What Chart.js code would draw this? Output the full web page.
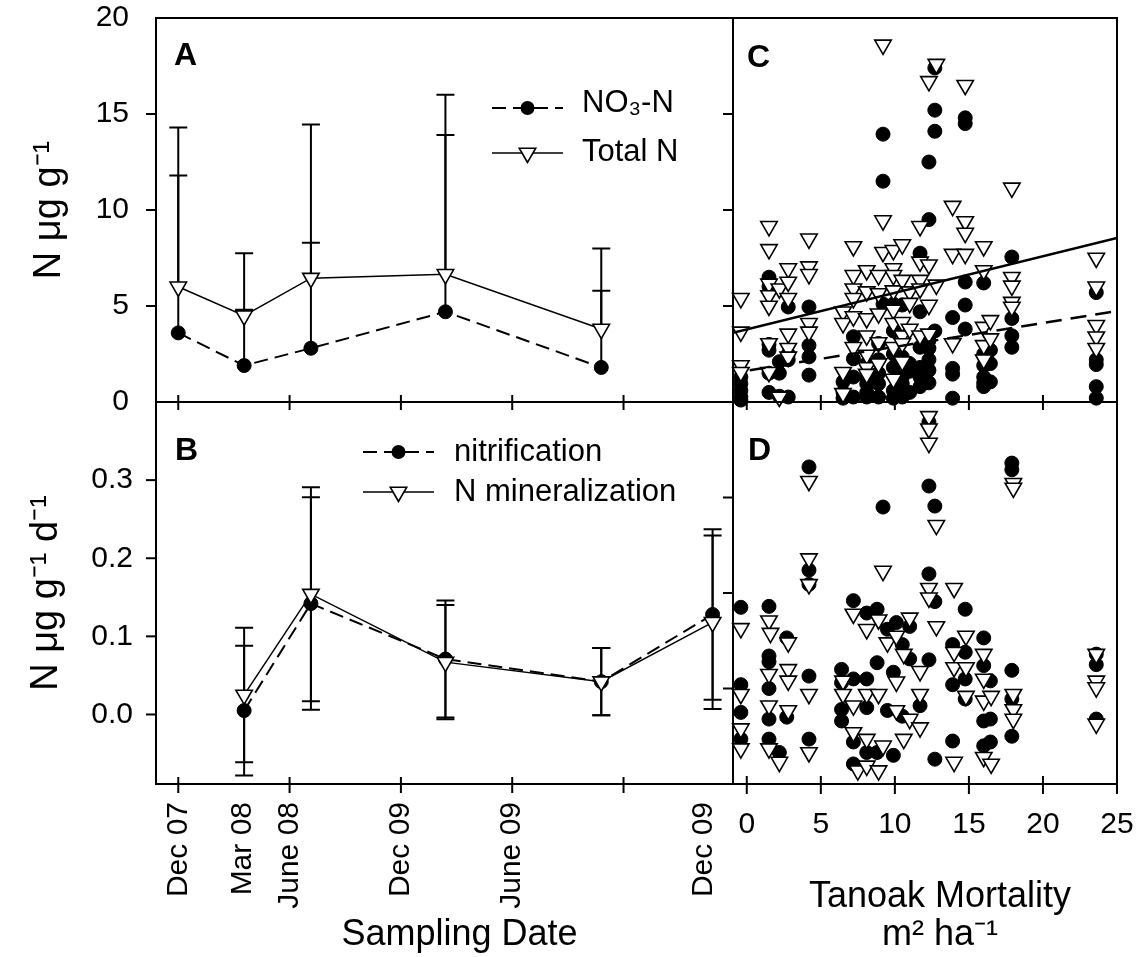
<!DOCTYPE html>
<html>
<head>
<meta charset="utf-8">
<title>Soil N and tanoak mortality</title>
<script src="https://cdn.jsdelivr.net/npm/chart.js@4.4.1/dist/chart.umd.min.js"></script>
<style>
  html, body { margin: 0; padding: 0; background: #fff; }
  #wrap { position: relative; width: 1137px; height: 957px; }
  #wrap canvas { position: absolute; left: 0; top: 0; }
</style>
</head>
<body>
<div id="wrap">
  <canvas id="panelA" width="1137" height="957"></canvas>
  <canvas id="panelB" width="1137" height="957"></canvas>
  <canvas id="panelC" width="1137" height="957"></canvas>
  <canvas id="panelD" width="1137" height="957"></canvas>
</div>
<script>
// sampling dates, in months after Dec 2007
const sampleMonths = [0, 3.55, 7.15, 14.4, 22.8, 28.8];

// panel A: soil N (ug/g), mean and upper error
const nitrateMean = [3.6, 1.9, 2.8, 4.7, 1.8, null];
const nitrateSE   = [8.2, 2.9, 5.5, 9.2, 4.0, null];
const totalNMean  = [6.0, 4.5, 6.45, 6.65, 3.8, null];
const totalNSE    = [8.3, 3.25, 8.0, 9.35, 4.2, null];

// panel B: rates (ug/g/d)
const nitrifMean = [null, 0.005, 0.142, 0.071, 0.042, 0.128];
const nitrifSE   = [null, 0.083, 0.136, 0.075, 0.043, 0.109];
const minerMean  = [null, 0.025, 0.154, 0.067, 0.042, 0.118];
const minerSE    = [null, 0.086, 0.137, 0.073, 0.043, 0.111];

// date axis labels (as printed on the original)
const dateTickMonths = [0, 3.5, 6, 12, 18, 24, 28.3];
const dateTickLabels = ['Dec 07', 'Mar 08', 'June 08', 'Dec 09', 'June 09', '', 'Dec 09'];
const dateTickMarks  = [0, 6, 12, 18, 24];

// panel C: [tanoak mortality m2/ha, N ug/g]
const cNitrate = [
  [-0.4,1.3],[-0.4,0.95],[-0.4,0.6],[-0.4,0.26],[-0.4,0.1],
  [1.5,6.5],[1.5,6.0],[1.5,3.0],[1.5,2.7],[1.5,1.5],[1.5,0.5],
  [2.2,2.1],[2.2,1.5],[2.2,0.3],
  [2.8,4.95],[2.8,2.5],[2.8,2.2],[2.8,0.26],
  [4.2,4.95],[4.2,2.95],[4.2,2.35],[4.2,1.4],
  [6.5,1.05],[6.5,0.5],[6.5,0.2],
  [7.2,3.4],[7.2,2.25],[7.2,1.3],[7.2,0.26],
  [8.1,2.0],[8.1,1.3],[8.1,0.95],[8.1,0.5],[8.1,0.26],
  [8.9,3.05],[8.9,2.2],[8.9,1.5],[8.9,0.95],[8.9,0.26],
  [9.2,13.95],[9.2,11.5],[9.2,5.1],
  [9.9,5.1],[9.9,3.7],[9.9,2.5],[9.9,1.8],[9.9,0.6],[9.9,0.2],
  [10.5,5.05],[10.5,2.35],[10.5,1.3],[10.5,0.95],[10.5,0.26],
  [11.0,2.0],[11.0,1.6],[11.0,0.5],
  [11.7,7.75],[11.7,4.7],[11.7,2.85],[11.7,1.8],[11.7,1.3],[11.7,0.8],
  [12.3,12.5],[12.3,9.5],[12.3,3.2],[12.3,2.8],[12.3,2.2],[12.3,1.65],[12.3,1.0],
  [12.7,17.4],[12.7,15.2],[12.7,14.1],[12.7,3.7],
  [13.9,4.4],[13.9,1.75],[13.9,1.45],[13.9,0.2],
  [14.75,14.8],[14.75,14.5],[14.75,6.25],[14.75,5.05],[14.75,3.8],
  [16.0,6.2],[16.0,2.5],[16.0,1.9],[16.0,1.3],[16.0,1.0],[16.0,0.8],
  [16.45,2.7],[16.45,2.0],[16.45,1.05],
  [17.9,7.55],[17.9,4.35],[17.9,3.45],[17.9,2.85],
  [23.6,5.7],[23.6,2.2],[23.6,1.95],[23.6,0.8],[23.6,0.2]
];
const cTotalN = [
  [-0.4,5.4],[-0.4,3.65],[-0.4,1.9],[-0.4,1.55],
  [1.5,9.15],[1.5,7.95],[1.5,6.15],[1.5,5.55],[1.5,5.0],[1.5,3.05],[1.5,1.55],
  [2.2,5.9],[2.2,0.26],
  [2.8,6.95],[2.8,6.25],[2.8,5.4],[2.8,3.55],[2.8,2.8],[2.8,2.35],
  [4.2,8.5],[4.2,7.05],[4.2,6.65],[4.2,4.1],[4.2,3.65],
  [6.5,4.7],[6.5,4.1],[6.5,1.55],[6.5,0.45],
  [7.2,8.1],[7.2,6.6],[7.2,5.9],[7.2,5.4],[7.2,4.45],[7.2,2.85],
  [8.1,6.85],[8.1,5.75],[8.1,4.35],[8.1,3.45],[8.1,2.45],[8.1,1.8],[8.1,1.45],
  [8.9,6.6],[8.9,5.65],[8.9,4.6],[8.9,3.1],[8.9,2.0],
  [9.2,18.6],[9.2,9.45],[9.2,7.8],
  [9.9,7.9],[9.9,6.95],[9.9,6.6],[9.9,5.8],[9.9,4.8],[9.9,4.1],[9.9,2.85],[9.9,1.2],
  [10.5,8.2],[10.5,6.35],[10.5,4.15],[10.5,3.45],[10.5,3.05],[10.5,2.1],
  [11.0,5.75],[11.0,5.15],[11.0,3.8],
  [11.7,9.15],[11.7,7.3],[11.7,6.35],[11.7,5.9],[11.7,3.45],
  [12.3,16.7],[12.3,7.15],[12.3,5.05],[12.3,3.55],
  [12.8,17.6],[12.8,6.1],
  [13.9,10.2],[13.9,7.7],[13.9,3.05],
  [14.75,16.5],[14.75,9.4],[14.75,8.8],[14.75,7.7],
  [16.0,8.1],[16.0,6.85],[16.0,3.9],[16.0,2.95],[16.0,2.2],
  [16.45,4.25],[16.45,3.3],
  [17.9,11.15],[17.9,6.5],[17.9,6.05],[17.9,5.2],[17.9,4.95],
  [23.6,7.5],[23.6,6.0],[23.6,4.0],[23.6,3.4],[23.6,2.8]
];
// regression lines (end points)
const fitTotalN  = [[-0.93, 3.6], [25, 8.55]];
const fitNitrate = [[0.2, 1.65], [25, 4.74]];

// panel D: [tanoak mortality, rate]
const dNitrif = [
  [-0.4,0.085],[-0.4,0.004],[-0.4,-0.025],[-0.4,-0.053],
  [1.5,0.086],[1.5,0.034],[1.5,0.028],[1.5,0.0],[1.5,-0.032],[1.5,-0.053],
  [2.2,-0.067],
  [2.7,0.053],[2.7,-0.03],
  [4.2,0.232],[4.2,0.124],[4.2,0.109],[4.2,0.013],[4.2,-0.053],
  [6.4,0.02],[6.4,0.006],[6.4,-0.022],[6.4,-0.034],
  [7.2,0.092],[7.2,0.01],[7.2,-0.056],[7.2,-0.079],
  [8.1,0.079],[8.1,0.01],[8.1,-0.02],[8.1,-0.067],
  [8.8,0.083],[8.8,0.027],[8.8,-0.067],
  [9.2,0.19],
  [9.5,0.062],[9.5,-0.023],
  [9.9,0.017],[9.9,-0.07],
  [10.1,0.069],
  [10.5,0.046],[10.5,-0.029],
  [11.0,0.065],[11.0,0.031],
  [11.7,-0.018],
  [12.3,0.279],[12.3,0.212],[12.3,0.12],[12.3,0.03],
  [12.7,0.191],[12.7,0.091],[12.7,-0.074],
  [13.9,0.046],[13.9,0.004],[13.9,-0.055],
  [14.75,0.083],[14.75,0.038],[14.75,0.01],[14.75,-0.011],
  [16.0,0.053],[16.0,0.024],[16.0,-0.034],[16.0,-0.06],
  [16.45,0.008],[16.45,-0.032],[16.45,-0.056],
  [17.9,0.236],[17.9,0.229],[17.9,0.019],[17.9,-0.011],[17.9,-0.05],
  [23.6,0.036],[23.6,0.025],[23.6,-0.032]
];
const dMineral = [
  [-0.4,0.063],[-0.4,-0.006],[-0.4,-0.042],[-0.4,-0.063],
  [1.5,0.071],[1.6,0.058],[1.5,0.015],[1.5,-0.018],[1.5,-0.063],
  [2.2,-0.077],
  [2.8,0.048],[2.8,0.02],[2.8,0.008],[2.8,-0.023],
  [4.2,0.217],[4.2,0.136],[4.2,0.109],[4.2,-0.006],[4.2,-0.067],
  [6.5,0.008],[6.5,-0.006],
  [7.2,0.078],[7.2,-0.018],[7.2,-0.046],
  [7.5,-0.086],
  [8.1,0.062],[8.1,-0.006],[8.1,-0.053],[8.1,-0.081],
  [8.9,0.072],[8.9,-0.006],[8.9,-0.086],
  [9.2,0.123],[9.2,-0.06],
  [9.5,0.048],
  [10.1,0.055],[10.1,0.007],[10.1,-0.023],
  [10.6,0.036],[10.6,-0.053],
  [11.0,0.074],[11.0,-0.032],
  [11.7,0.018],[11.7,-0.006],[11.7,-0.041],
  [12.3,0.285],[12.3,0.272],[12.3,0.257],[12.3,0.105],[12.3,0.095],
  [12.8,0.171],[12.8,0.065],
  [14.0,0.105],[14.0,0.038],[14.0,0.022],[14.0,-0.077],
  [14.8,0.055],[14.8,0.022],[14.8,-0.008],
  [16.0,0.036],[16.0,0.01],[16.0,-0.013],[16.0,-0.072],
  [16.5,-0.008],[16.5,-0.079],
  [18.0,0.215],[18.0,0.21],[18.0,-0.006],[18.0,-0.022],[18.0,-0.032],
  [23.6,0.036],[23.6,0.008],[23.6,0.001],[23.6,-0.037]
];

const FONT = "'Liberation Sans', Arial, Helvetica, sans-serif";
Chart.defaults.font.family = FONT;
Chart.defaults.color = '#000';

// turn the date arrays into {x, y, err} points
function series(means, errs) {
  return sampleMonths
    .map((m, i) => ({ x: m, y: means[i], err: errs[i] }))
    .filter(p => p.y !== null);
}
function pairs(list) {
  return list.map(p => ({ x: p[0], y: p[1] }));
}
// fixed axis size, no extra room for edge labels
function fixSize(w, h) {
  return s => {
    if (w !== null) s.width = w;
    if (h !== null) s.height = h;
    s.paddingTop = 0; s.paddingBottom = 0; s.paddingLeft = 0; s.paddingRight = 0;
  };
}

const triangleStyle = {
  pointStyle: 'triangle', pointRotation: 180, pointRadius: 9.5,
  pointBackgroundColor: '#fff', pointBorderColor: '#000', pointBorderWidth: 1.6
};
const circleStyle = {
  pointStyle: 'circle', pointRadius: 7,
  pointBackgroundColor: '#000', pointBorderColor: '#000', pointBorderWidth: 1
};

// box round the plot area, tick marks, panel letter
const framePlugin = {
  id: 'frame',
  afterDraw(chart, args, opts) {
    const { ctx, chartArea: a, scales } = chart;
    ctx.save();
    ctx.strokeStyle = '#000';
    ctx.lineWidth = 2;
    ctx.strokeRect(a.left, a.top, a.right - a.left, a.bottom - a.top);
    (opts.xMarks || []).forEach(v => {
      const px = scales.x.getPixelForValue(v);
      ctx.beginPath();
      ctx.moveTo(px, a.bottom - opts.xIn);
      ctx.lineTo(px, a.bottom + opts.xOut);
      ctx.stroke();
    });
    (opts.yMarks || []).forEach(v => {
      const py = scales.y.getPixelForValue(v);
      ctx.beginPath();
      ctx.moveTo(a.left - 10, py);
      ctx.lineTo(a.left, py);
      ctx.stroke();
    });
    if (opts.letter) {
      ctx.fillStyle = '#000';
      ctx.font = 'bold 32px ' + FONT;
      ctx.textBaseline = 'alphabetic';
      ctx.textAlign = 'left';
      ctx.fillText(opts.letter, a.left + opts.letterDx, a.top + opts.letterDy);
    }
    ctx.restore();
  }
};

function drawMarker(ctx, kind, x, y) {
  ctx.beginPath();
  if (kind === 'circle') {
    ctx.arc(x, y, 7, 0, Math.PI * 2);
    ctx.fillStyle = '#000';
    ctx.fill();
  } else {
    const r = 9.5;
    ctx.moveTo(x, y + r);
    ctx.lineTo(x - r * Math.sin(Math.PI / 3), y - r / 2);
    ctx.lineTo(x + r * Math.sin(Math.PI / 3), y - r / 2);
    ctx.closePath();
    ctx.fillStyle = '#fff';
    ctx.fill();
    ctx.lineWidth = 1.6;
    ctx.stroke();
  }
}

// hand drawn key (line + symbol + label)
const keyPlugin = {
  id: 'key',
  afterDraw(chart, args, opts) {
    if (!opts.rows) return;
    const { ctx, chartArea: a } = chart;
    ctx.save();
    ctx.strokeStyle = '#000';
    ctx.font = '31px ' + FONT;
    ctx.textBaseline = 'middle';
    ctx.textAlign = 'left';
    opts.rows.forEach(r => {
      const y = a.top + r.dy;
      ctx.lineWidth = r.width;
      ctx.setLineDash(r.dash || []);
      ctx.beginPath();
      ctx.moveTo(a.left + opts.x0, y);
      ctx.lineTo(a.left + opts.x1, y);
      ctx.stroke();
      ctx.setLineDash([]);
      drawMarker(ctx, r.marker, a.left + (opts.x0 + opts.x1) / 2, y);
      ctx.fillStyle = '#000';
      ctx.fillText(r.text, a.left + opts.xt, a.top + r.ty);
    });
    ctx.restore();
  }
};

// error bars from the err field of each point
const errorPlugin = {
  id: 'errs',
  beforeDatasetsDraw(chart) {
    const { ctx, scales: { x, y } } = chart;
    ctx.save();
    ctx.strokeStyle = '#000';
    ctx.lineWidth = 2;
    chart.data.datasets.forEach(ds => {
      if (!ds.errorBars) return;
      ds.data.forEach(p => {
        const px = x.getPixelForValue(p.x);
        const hi = y.getPixelForValue(p.y + p.err);
        const lo = ds.twoSided ? y.getPixelForValue(p.y - p.err) : y.getPixelForValue(p.y);
        ctx.beginPath();
        ctx.moveTo(px, hi); ctx.lineTo(px, lo);
        ctx.moveTo(px - 9, hi); ctx.lineTo(px + 9, hi);
        if (ds.twoSided) { ctx.moveTo(px - 9, lo); ctx.lineTo(px + 9, lo); }
        ctx.stroke();
      });
    });
    ctx.restore();
  }
};

const plain = { display: false, drawTicks: false };
const noBorder = { display: false };
const base = {
  responsive: false,
  animation: false,
  events: []
};

// ---------- A ----------
new Chart(document.getElementById('panelA'), {
  type: 'line',
  data: {
    datasets: [
      Object.assign({ label: 'Total N', data: series(totalNMean, totalNSE), borderColor: '#000',
        borderWidth: 1.5, errorBars: true }, triangleStyle),
      Object.assign({ label: 'NO₃-N', data: series(nitrateMean, nitrateSE), borderColor: '#000',
        borderWidth: 2, borderDash: [14, 7], errorBars: true }, circleStyle)
    ]
  },
  options: Object.assign({}, base, {
    layout: { padding: { left: 0, top: 18, right: 404, bottom: 555 } },
    scales: {
      x: { type: 'linear', min: -1.2, max: 29.9, grid: plain, border: noBorder,
        ticks: { display: false }, afterFit: fixSize(null, 0) },
      y: { min: 0, max: 20, grid: plain, border: noBorder,
        afterBuildTicks: s => { s.ticks = [0, 5, 10, 15, 20].map(v => ({ value: v })); },
        ticks: { font: { size: 30 }, padding: 27 },
        title: { display: true, text: 'N μg g⁻¹', font: { size: 38 }, padding: { top: 27 } },
        afterFit: fixSize(156, null) }
    },
    plugins: {
      legend: { display: false }, tooltip: { enabled: false },
      frame: { xMarks: dateTickMarks, xIn: 7, xOut: 8, yMarks: [5, 10, 15],
        letter: 'A', letterDx: 18, letterDy: 47 },
      key: { x0: 336, x1: 407, xt: 426, rows: [
        { text: 'NO₃-N', marker: 'circle', dash: [14, 7], width: 2, dy: 90, ty: 85 },
        { text: 'Total N', marker: 'triangle', width: 1.5, dy: 135, ty: 134 }
      ] }
    }
  }),
  plugins: [errorPlugin, framePlugin, keyPlugin]
});

// ---------- B ----------
new Chart(document.getElementById('panelB'), {
  type: 'line',
  data: {
    datasets: [
      Object.assign({ label: 'N mineralization', data: series(minerMean, minerSE), borderColor: '#000',
        borderWidth: 1.5, errorBars: true, twoSided: true }, triangleStyle),
      Object.assign({ label: 'nitrification', data: series(nitrifMean, nitrifSE), borderColor: '#000',
        borderWidth: 2, borderDash: [14, 7], errorBars: true, twoSided: true }, circleStyle)
    ]
  },
  options: Object.assign({}, base, {
    layout: { padding: { left: 0, top: 402, right: 404, bottom: 0 } },
    scales: {
      x: { type: 'linear', min: -1.2, max: 29.9, grid: plain, border: noBorder,
        afterBuildTicks: s => { s.ticks = dateTickMonths.map(v => ({ value: v })); },
        ticks: { autoSkip: false, minRotation: 90, maxRotation: 90, padding: 18,
          font: { size: 30 }, callback: (v, i) => dateTickLabels[i] },
        title: { display: true, text: '   Sampling Date', font: { size: 36 }, padding: { bottom: 0 } },
        afterFit: fixSize(null, 173) },
      y: { min: -0.089, max: 0.4, grid: plain, border: noBorder,
        afterBuildTicks: s => { s.ticks = [0, 0.1, 0.2, 0.3].map(v => ({ value: v })); },
        ticks: { font: { size: 30 }, padding: 23, callback: v => v.toFixed(1) },
        title: { display: true, text: 'N μg g⁻¹ d⁻¹', font: { size: 38 }, padding: { top: 24 } },
        afterFit: fixSize(156, null) }
    },
    plugins: {
      legend: { display: false }, tooltip: { enabled: false },
      frame: { xMarks: dateTickMarks, xIn: 7, xOut: 9, yMarks: [0, 0.1, 0.2, 0.3],
        letter: 'B', letterDx: 19, letterDy: 58 },
      key: { x0: 207, x1: 278, xt: 298, rows: [
        { text: 'nitrification', marker: 'circle', dash: [14, 7], width: 2, dy: 50, ty: 50 },
        { text: 'N mineralization', marker: 'triangle', width: 1.5, dy: 90, ty: 90 }
      ] }
    }
  }),
  plugins: [errorPlugin, framePlugin, keyPlugin]
});

// ---------- C ----------
new Chart(document.getElementById('panelC'), {
  type: 'scatter',
  data: {
    datasets: [
      { label: 'Total N fit', data: pairs(fitTotalN), showLine: true, pointRadius: 0,
        borderColor: '#000', borderWidth: 2.5 },
      { label: 'NO₃-N fit', data: pairs(fitNitrate), showLine: true, pointRadius: 0,
        borderColor: '#000', borderWidth: 2.5, borderDash: [16, 9] },
      Object.assign({ label: 'Total N', data: pairs(cTotalN), clip: false }, triangleStyle),
      Object.assign({ label: 'NO₃-N', data: pairs(cNitrate), clip: false }, circleStyle)
    ]
  },
  options: Object.assign({}, base, {
    layout: { padding: { left: 733, top: 18, right: 20, bottom: 555 } },
    scales: {
      x: { type: 'linear', min: -0.93, max: 25, grid: plain, border: noBorder,
        ticks: { display: false }, afterFit: fixSize(null, 0) },
      y: { min: 0, max: 20, grid: plain, border: noBorder,
        ticks: { display: false }, afterFit: fixSize(0, null) }
    },
    plugins: {
      legend: { display: false }, tooltip: { enabled: false },
      frame: { xMarks: [0, 5, 10, 15, 20, 25], xIn: 7, xOut: 8, yMarks: [5, 10, 15],
        letter: 'C', letterDx: 14, letterDy: 49 }
    }
  }),
  plugins: [framePlugin]
});

// ---------- D ----------
new Chart(document.getElementById('panelD'), {
  type: 'scatter',
  data: {
    datasets: [
      Object.assign({ label: 'N mineralization', data: pairs(dMineral), clip: false }, triangleStyle),
      Object.assign({ label: 'nitrification', data: pairs(dNitrif), clip: false }, circleStyle)
    ]
  },
  options: Object.assign({}, base, {
    layout: { padding: { left: 733, top: 402, right: 20, bottom: 0 } },
    scales: {
      x: { type: 'linear', min: -0.93, max: 25, grid: plain, border: noBorder,
        afterBuildTicks: s => { s.ticks = [0, 5, 10, 15, 20, 25].map(v => ({ value: v })); },
        ticks: { font: { size: 30 }, padding: 23, maxRotation: 0 },
        title: { display: true, text: ['   Tanoak Mortality', '   m² ha⁻¹'], font: { size: 36, lineHeight: 1.05 },
          padding: { bottom: 3 } },
        afterFit: fixSize(null, 173) },
      y: { min: -0.1, max: 0.3, grid: plain, border: noBorder,
        ticks: { display: false }, afterFit: fixSize(0, null) }
    },
    plugins: {
      legend: { display: false }, tooltip: { enabled: false },
      frame: { xMarks: [0, 5, 10, 15, 20, 25], xIn: 8, xOut: 10, yMarks: [0, 0.1, 0.2],
        letter: 'D', letterDx: 15, letterDy: 58 }
    }
  }),
  plugins: [framePlugin]
});
</script>
</body>
</html>
